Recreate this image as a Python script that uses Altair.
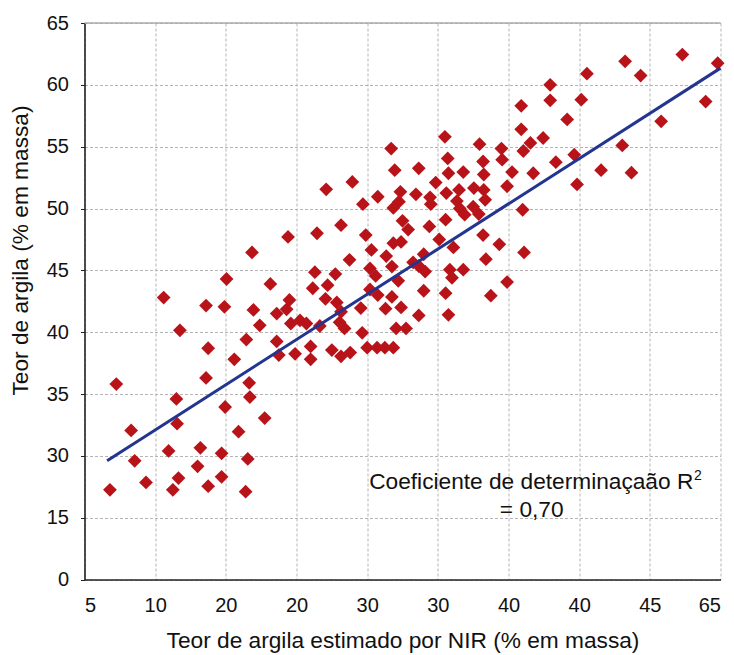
import json
import altair as alt
import pandas as pd

# Axis tick labels exactly as printed on the reference (evenly spaced ticks)
x_labels = ["5", "10", "20", "20", "30", "30", "40", "40", "45", "65"]
y_labels = ["0", "15", "30", "35", "40", "45", "50", "55", "60", "65"]

# Point positions, in tick-index units (0 = first tick, 9 = last tick)
x_pos = [0.45, 1.12, 1.72, 1.98, 2.39, 2.63, 1.35, 1.75, 1.72, 2.48,
         2.29, 2.12, 2.33, 2.34, 1.30, 0.66, 1.31, 1.99, 2.18, 2.55,
         1.19, 1.64, 1.94, 2.31, 0.71, 1.60, 0.36, 0.87, 1.33, 1.25,
         1.75, 1.94, 2.28, 2.01, 2.72, 2.86, 2.90, 2.92, 3.05, 3.14,
         2.98, 3.20, 3.20, 2.72, 2.75, 3.23, 3.44, 3.41, 3.57, 3.63,
         3.61, 3.68, 3.33, 3.93, 3.50, 3.63, 3.76, 4.00, 4.14, 4.25,
         4.37, 3.91, 4.04, 4.15, 4.26, 4.35, 4.48, 4.41, 4.55, 4.44,
         4.80, 5.11, 5.75, 5.98, 4.73, 5.15, 4.34, 4.39, 3.42, 3.79,
         4.15, 3.94, 4.47, 4.37, 4.45, 4.50, 2.88, 3.29, 3.63, 3.98,
         4.06, 4.27, 4.35, 4.48, 4.37, 2.37, 3.75, 3.26, 3.55, 4.04,
         4.12, 5.10, 5.59, 5.90, 5.14, 4.73, 5.36, 5.15, 5.64, 5.91,
         5.65, 6.05, 4.97, 5.98, 4.69, 4.89, 4.90, 5.12, 5.30, 5.51,
         5.65, 5.27, 5.67, 5.31, 5.38, 5.50, 5.58, 4.58, 4.88, 5.11,
         5.02, 5.22, 5.64, 5.87, 4.73, 4.80, 4.82, 4.65, 5.17, 5.20,
         5.36, 5.68, 8.46, 8.96, 7.65, 7.87, 7.11, 6.59, 6.59, 7.03,
         6.18, 6.83, 8.79, 8.16, 6.18, 6.49, 6.31, 6.21, 7.61, 6.93,
         6.67, 6.35, 7.31, 7.74, 6.97, 6.20, 6.22]
y_pos = [3.16, 4.56, 4.43, 4.41, 4.36, 4.78, 4.03, 3.74, 3.26, 4.11,
         3.88, 3.56, 3.18, 2.95, 2.92, 2.41, 2.52, 2.79, 2.39, 2.61,
         2.08, 2.13, 2.04, 1.95, 1.92, 1.83, 1.45, 1.57, 1.64, 1.45,
         1.51, 1.66, 1.42, 4.86, 4.30, 4.37, 4.52, 4.14, 4.19, 4.14,
         3.65, 3.77, 3.56, 3.85, 3.63, 4.71, 4.76, 4.54, 4.48, 4.33,
         4.16, 4.06, 4.10, 3.99, 3.71, 3.61, 3.67, 3.75, 3.75, 3.75,
         3.75, 4.39, 4.69, 4.60, 4.38, 4.57, 4.40, 4.06, 4.06, 4.83,
         4.67, 4.63, 4.59, 4.81, 4.27, 4.28, 6.97, 6.62, 6.31, 6.43,
         6.19, 6.07, 6.27, 6.01, 6.11, 5.80, 5.54, 5.60, 5.73, 5.57,
         5.33, 5.23, 5.06, 5.46, 5.44, 5.29, 5.17, 4.97, 4.94, 5.03,
         4.91, 7.16, 7.04, 6.97, 6.81, 6.65, 6.59, 6.57, 6.76, 6.79,
         6.55, 6.59, 6.42, 6.36, 6.23, 6.18, 6.07, 6.25, 6.30, 6.33,
         6.30, 6.12, 6.14, 6.00, 5.90, 6.03, 5.91, 5.66, 5.71, 5.82,
         5.50, 5.37, 5.57, 5.42, 5.07, 5.26, 4.98, 5.13, 5.01, 4.88,
         5.01, 5.18, 8.49, 8.35, 8.38, 8.15, 8.18, 8.00, 7.75, 7.76,
         7.66, 7.44, 7.73, 7.41, 7.28, 7.14, 7.06, 6.93, 7.02, 6.87,
         6.75, 6.57, 6.62, 6.58, 6.39, 5.98, 5.29]

# Regression line end points (tick-index units)
reg_x = [0.32, 9.0]
reg_y = [1.92, 8.27]

note_main = "Coeficiente de determinaçaão R"
note_sup = "2"
note_value = "= 0,70"

FONT = "Liberation Sans"
ticks = list(range(10))
x_expr = json.dumps(x_labels) + "[datum.value]"
y_expr = json.dumps(y_labels) + "[datum.value]"

pts = pd.DataFrame({"x": x_pos, "y": y_pos})
reg = pd.DataFrame({"x": reg_x, "y": reg_y})

xscale = alt.Scale(domain=[0, 9], nice=False, zero=False)
yscale = alt.Scale(domain=[0, 9], nice=False, zero=False)

xaxis = alt.Axis(values=ticks, labelExpr=x_expr, title="Teor de argila estimado por NIR (% em massa)",
                 grid=True, gridColor="#b4b4b4", gridDash=[3, 2], gridWidth=1,
                 ticks=False, labelPadding=16, labelFontSize=20, labelColor="#111",
                 labelFont=FONT, titleFont=FONT, titleFontSize=22.7, titleFontWeight="normal",
                 titleColor="#111", titlePadding=14,
                 domainColor="#222", domainWidth=1.6)
yaxis = alt.Axis(values=ticks, labelExpr=y_expr, title="Teor de argila (% em massa)",
                 grid=True, gridColor="#b4b4b4", gridDash=[3, 2], gridWidth=1,
                 ticks=True, tickSize=4, tickColor="#222", labelPadding=12,
                 labelFontSize=20, labelColor="#111", labelFont=FONT,
                 titleFont=FONT, titleFontSize=22.7, titleFontWeight="normal", titleColor="#111",
                 titleX=-64, titleY=227, titleAngle=270, titleAlign="center", titleBaseline="middle",
                 domainColor="#222", domainWidth=1.6)

points = alt.Chart(pts).mark_point(shape="diamond", filled=True, size=190,
                                   color="#b9131a", opacity=1).encode(
    x=alt.X("x:Q", scale=xscale, axis=xaxis),
    y=alt.Y("y:Q", scale=yscale, axis=yaxis),
)

line = alt.Chart(reg).mark_line(color="#23358f", strokeWidth=3).encode(
    x=alt.X("x:Q", scale=xscale),
    y=alt.Y("y:Q", scale=yscale),
)

top_rule = alt.Chart(pd.DataFrame({"y": [9]})).mark_rule(color="#aaaaaa", strokeWidth=1.5).encode(
    y=alt.Y("y:Q", scale=yscale)
)

note_df = pd.DataFrame({"main": [note_main], "sup": [note_sup], "val": [note_value]})
t1 = alt.Chart(note_df).mark_text(align="right", baseline="alphabetic", fontSize=22.7,
                                  font=FONT, color="#111").encode(
    text="main:N", x=alt.value(608.8), y=alt.value(466.3))
t2 = alt.Chart(note_df).mark_text(align="left", baseline="alphabetic", fontSize=14,
                                  font=FONT, color="#111").encode(
    text="sup:N", x=alt.value(609.5), y=alt.value(457))
t3 = alt.Chart(note_df).mark_text(align="center", baseline="alphabetic", fontSize=22.7,
                                  font=FONT, color="#111").encode(
    text="val:N", x=alt.value(447.2), y=alt.value(494.3))

chart = alt.layer(top_rule, points, line, t1, t2, t3).properties(
    width=636, height=556.5,
    autosize=alt.AutoSizeParams(type="none"),
    padding={"left": 76.5, "top": 15, "right": 5, "bottom": 74},
    background="white",
).configure_view(stroke=None)

chart.save("out.html", embed_options={"renderer": "svg", "actions": False})
